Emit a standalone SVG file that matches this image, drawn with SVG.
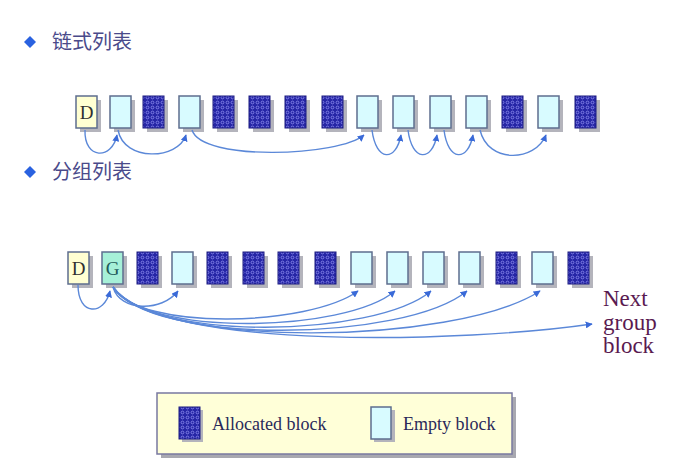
<svg xmlns="http://www.w3.org/2000/svg" width="696" height="470" viewBox="0 0 696 470">
<defs>
<pattern id="dots" width="5" height="5" patternUnits="userSpaceOnUse">
<rect width="5" height="5" fill="#2626a6"/>
<circle cx="2.5" cy="2.5" r="1.4" fill="none" stroke="#8e8ef0" stroke-width="0.8"/>
</pattern>
<marker id="ah" viewBox="0 0 10 10" refX="9" refY="5" markerWidth="7" markerHeight="7" markerUnits="userSpaceOnUse" orient="auto">
<path d="M0,0 L10,5 L0,10 z" fill="#3a6ad8"/>
</marker>
<symbol id="sh" overflow="visible"><rect x="4" y="4" width="21" height="32" fill="#b4b4bc"/></symbol>
</defs>
<style>
.sh{fill:#b4b4bc}
.e{fill:#d8fbff;stroke:#5e6e8e;stroke-width:1.5}
.a{fill:url(#dots);stroke:#1a1a80;stroke-width:1}
.d{fill:#ffffd2;stroke:#5e6e8e;stroke-width:1.5}
.g{fill:#a6f0d8;stroke:#5e6e8e;stroke-width:1.5}
.lt{font-family:"Liberation Serif",serif;font-size:19px;fill:#303030}
.hd{font-family:"Noto Sans CJK SC",sans-serif;font-size:20px;fill:#4a4a8a}
.c{fill:none;stroke:#5b88d8;stroke-width:1.4;marker-end:url(#ah)}
.lg{font-family:"Liberation Serif",serif;font-size:18px;fill:#2a2a5a}
.ng{font-family:"Liberation Serif",serif;font-size:23px;fill:#5a1a50}
</style>
<rect width="696" height="470" fill="#ffffff"/>

<g id="header1">
<path d="M30,36 L36,42 L30,48 L24,42 z" fill="#2a62e0"/>
<text x="52" y="49" class="hd">链式列表</text>
</g>
<g id="header2">
<path d="M30,166 L36,172 L30,178 L24,172 z" fill="#2a62e0"/>
<text x="52" y="179" class="hd">分组列表</text>
</g>

<g id="row1">
<g id="r1-0"><use href="#sh" x="76" y="96"/><rect x="76" y="96" width="21" height="32" class="d"/><text x="86.5" y="119" class="lt" text-anchor="middle">D</text></g>
<g id="r1-1"><use href="#sh" x="110" y="96"/><rect x="110" y="96" width="21" height="32" class="e"/></g>
<g id="r1-2"><use href="#sh" x="143" y="96"/><rect x="143" y="96" width="21" height="32" class="a"/></g>
<g id="r1-3"><use href="#sh" x="179" y="96"/><rect x="179" y="96" width="21" height="32" class="e"/></g>
<g id="r1-4"><use href="#sh" x="213" y="96"/><rect x="213" y="96" width="21" height="32" class="a"/></g>
<g id="r1-5"><use href="#sh" x="249" y="96"/><rect x="249" y="96" width="21" height="32" class="a"/></g>
<g id="r1-6"><use href="#sh" x="285" y="96"/><rect x="285" y="96" width="21" height="32" class="a"/></g>
<g id="r1-7"><use href="#sh" x="322" y="96"/><rect x="322" y="96" width="21" height="32" class="a"/></g>
<g id="r1-8"><use href="#sh" x="357" y="96"/><rect x="357" y="96" width="21" height="32" class="e"/></g>
<g id="r1-9"><use href="#sh" x="393" y="96"/><rect x="393" y="96" width="21" height="32" class="e"/></g>
<g id="r1-10"><use href="#sh" x="430" y="96"/><rect x="430" y="96" width="21" height="32" class="e"/></g>
<g id="r1-11"><use href="#sh" x="466" y="96"/><rect x="466" y="96" width="21" height="32" class="e"/></g>
<g id="r1-12"><use href="#sh" x="502" y="96"/><rect x="502" y="96" width="21" height="32" class="a"/></g>
<g id="r1-13"><use href="#sh" x="538" y="96"/><rect x="538" y="96" width="21" height="32" class="e"/></g>
<g id="r1-14"><use href="#sh" x="575" y="96"/><rect x="575" y="96" width="21" height="32" class="a"/></g>
</g>

<g id="row2">
<g id="r2-0"><use href="#sh" x="68" y="252"/><rect x="68" y="252" width="21" height="32" class="d"/><text x="78.5" y="275" class="lt" text-anchor="middle">D</text></g>
<g id="r2-1"><use href="#sh" x="102" y="252"/><rect x="102" y="252" width="21" height="32" class="g"/><text x="112.5" y="275" class="lt" text-anchor="middle" style="fill:#1e5a5a">G</text></g>
<g id="r2-2"><use href="#sh" x="137" y="252"/><rect x="137" y="252" width="21" height="32" class="a"/></g>
<g id="r2-3"><use href="#sh" x="172" y="252"/><rect x="172" y="252" width="21" height="32" class="e"/></g>
<g id="r2-4"><use href="#sh" x="207" y="252"/><rect x="207" y="252" width="21" height="32" class="a"/></g>
<g id="r2-5"><use href="#sh" x="243" y="252"/><rect x="243" y="252" width="21" height="32" class="a"/></g>
<g id="r2-6"><use href="#sh" x="278" y="252"/><rect x="278" y="252" width="21" height="32" class="a"/></g>
<g id="r2-7"><use href="#sh" x="315" y="252"/><rect x="315" y="252" width="21" height="32" class="a"/></g>
<g id="r2-8"><use href="#sh" x="351" y="252"/><rect x="351" y="252" width="21" height="32" class="e"/></g>
<g id="r2-9"><use href="#sh" x="387" y="252"/><rect x="387" y="252" width="21" height="32" class="e"/></g>
<g id="r2-10"><use href="#sh" x="423" y="252"/><rect x="423" y="252" width="21" height="32" class="e"/></g>
<g id="r2-11"><use href="#sh" x="459" y="252"/><rect x="459" y="252" width="21" height="32" class="e"/></g>
<g id="r2-12"><use href="#sh" x="496" y="252"/><rect x="496" y="252" width="21" height="32" class="a"/></g>
<g id="r2-13"><use href="#sh" x="532" y="252"/><rect x="532" y="252" width="21" height="32" class="e"/></g>
<g id="r2-14"><use href="#sh" x="568" y="252"/><rect x="568" y="252" width="21" height="32" class="a"/></g>
</g>

<g id="next-group">
<text class="ng"><tspan x="603" y="306">Next</tspan><tspan x="603" y="330">group</tspan><tspan x="603" y="353">block</tspan></text>
</g>

<g id="connectors">
<path class="c" d="M85,130 C84,160 112,160 117,135"/>
<path class="c" d="M118,130 C124,162 178,160 186,135"/>
<path class="c" d="M192,130 C202,162 340,156 364,135"/>
<path class="c" d="M372,130 C376,162 396,162 401,135"/>
<path class="c" d="M408,130 C412,162 432,162 437,135"/>
<path class="c" d="M444,130 C448,162 468,162 473,135"/>
<path class="c" d="M480,130 C488,164 535,162 546,135"/>

<path class="c" d="M78,285 C78,316 104,316 110,291"/>
<path class="c" d="M113,287 C120,312 162,312 178,291"/>
<path class="c" d="M113,287 C140,332 310,326 358,291"/>
<path class="c" d="M113,287 C145,337 345,333 395,291"/>
<path class="c" d="M113,287 C150,342 375,338 431,291"/>
<path class="c" d="M113,287 C152,346 405,342 467,291"/>
<path class="c" d="M113,287 C155,349 455,346 540,291"/>
<path class="c" d="M113,287 C160,352 470,342 592,324"/>
</g>

<g id="legend">
<rect x="161" y="397" width="355" height="61" fill="#a8a8b0"/>
<rect x="157" y="393" width="355" height="61" fill="#ffffd8" stroke="#7878a0" stroke-width="1.5"/>
<rect x="182" y="410" width="21" height="32" fill="#b4b4bc"/>
<rect x="179" y="407" width="21" height="32" class="a"/>
<text x="212" y="430" class="lg">Allocated block</text>
<rect x="374" y="410" width="21" height="32" fill="#b4b4bc"/>
<rect x="371" y="407" width="20" height="32" class="e"/>
<text x="403" y="430" class="lg">Empty block</text>
</g>
</svg>
